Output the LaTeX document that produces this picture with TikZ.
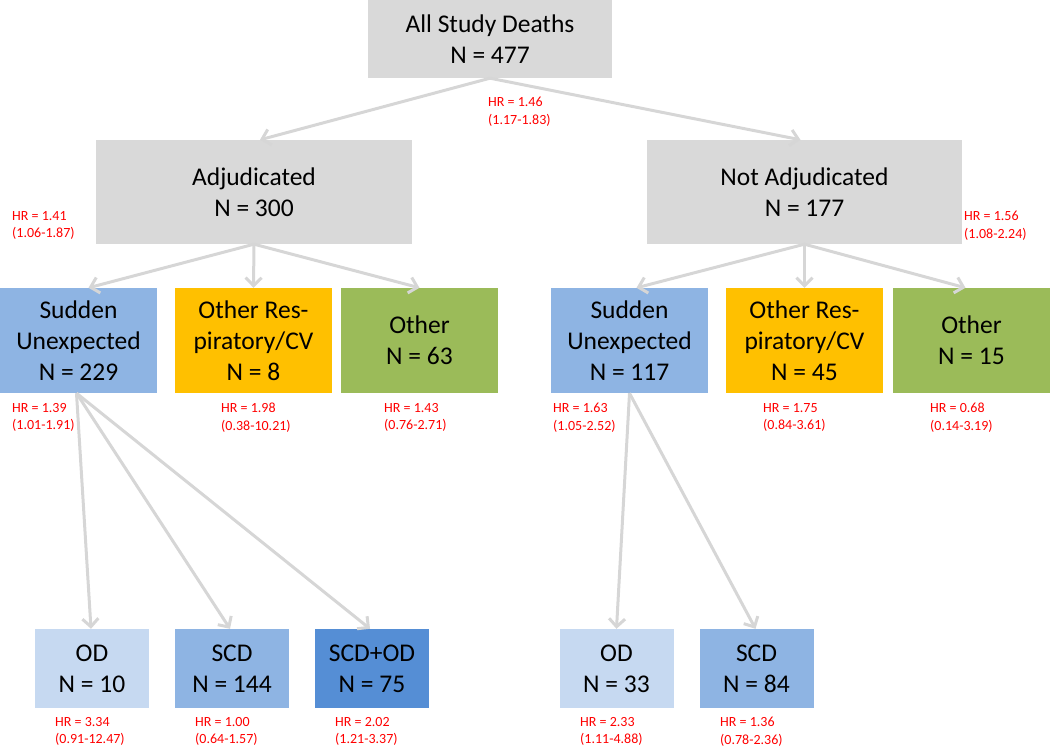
\documentclass[tikz,border=0pt]{standalone}
\usepackage{fontspec}
\setmainfont{Carlito}
\usetikzlibrary{arrows.meta,calc}
\definecolor{boxgray}{HTML}{D9D9D9}
\definecolor{linegray}{HTML}{D6D6D6}
\definecolor{sudblue}{HTML}{8EB4E3}
\definecolor{odblue}{HTML}{C6D9F1}
\definecolor{mixblue}{HTML}{558ED5}
\definecolor{resporange}{HTML}{FFC000}
\definecolor{othergreen}{HTML}{9BBB59}
\definecolor{hrred}{HTML}{FF0000}
\begin{document}
\begin{tikzpicture}[x=1pt,y=-1pt,
  box/.style={inner sep=0pt, align=center, text=black, font=\fontsize{25.5}{31}\selectfont},
  hr/.style={inner sep=0pt, align=left, anchor=north west, text=hrred, font=\fontsize{14}{17.5}\selectfont},
  conn/.style={draw=linegray, line width=3pt, -{Straight Barb[length=8pt,width=16pt]}}]
\useasboundingbox (0,0) rectangle (1050,747);
% level 0
\node[box, fill=boxgray, minimum width=244pt, minimum height=78pt] (all) at (490,39) {All Study Deaths\\N = 477};
% level 1
\node[box, fill=boxgray, minimum width=316pt, minimum height=104pt] (adj) at (254,192) {Adjudicated\\N = 300};
\node[box, fill=boxgray, minimum width=315pt, minimum height=104pt] (nadj) at (804.5,192) {Not Adjudicated\\N = 177};
% level 2
\node[box, fill=sudblue, minimum width=157pt, minimum height=105pt] (sudL) at (78.5,340.5) {Sudden\\Unexpected\\N = 229};
\node[box, fill=resporange, minimum width=157pt, minimum height=105pt] (respL) at (253.5,340.5) {Other Res-\\piratory/CV\\N = 8};
\node[box, fill=othergreen, minimum width=157pt, minimum height=105pt] (othL) at (419.5,340.5) {Other\\N = 63};
\node[box, fill=sudblue, minimum width=157pt, minimum height=105pt] (sudR) at (629.5,340.5) {Sudden\\Unexpected\\N = 117};
\node[box, fill=resporange, minimum width=157pt, minimum height=105pt] (respR) at (804.5,340.5) {Other Res-\\piratory/CV\\N = 45};
\node[box, fill=othergreen, minimum width=157pt, minimum height=105pt] (othR) at (971.5,340.5) {Other\\N = 15};
% level 3
\node[box, fill=odblue, minimum width=114pt, minimum height=79pt] (odL) at (92,668.5) {OD\\N = 10};
\node[box, fill=sudblue, minimum width=114pt, minimum height=79pt] (scdL) at (232,668.5) {SCD\\N = 144};
\node[box, fill=mixblue, minimum width=114pt, minimum height=79pt] (mixL) at (372,668.5) {SCD+OD\\N = 75};
\node[box, fill=odblue, minimum width=114pt, minimum height=79pt] (odR) at (616.5,668.5) {OD\\N = 33};
\node[box, fill=sudblue, minimum width=114pt, minimum height=79pt] (scdR) at (756.5,668.5) {SCD\\N = 84};
% connectors
\draw[conn] (all.south) -- ([xshift=6pt]adj.north);
\draw[conn] (all.south) -- ([xshift=-4pt]nadj.north);
\draw[conn] (adj.south) -- ([xshift=10pt]sudL.north);
\draw[conn] (adj.south) -- (respL.north);
\draw[conn] (adj.south) -- (othL.north);
\draw[conn] (nadj.south) -- ([xshift=7pt]sudR.north);
\draw[conn] (nadj.south) -- (respR.north);
\draw[conn] (nadj.south) -- ([xshift=-6pt]othR.north);
\draw[conn] ([xshift=-2pt]sudL.south) -- ([xshift=-1pt]odL.north);
\draw[conn] ([xshift=-2pt]sudL.south) -- ([xshift=-2pt]scdL.north);
\draw[conn] ([xshift=-2pt]sudL.south) -- ([xshift=-2pt]mixL.north);
\draw[conn] (sudR.south) -- (odR.north);
\draw[conn] (sudR.south) -- ([xshift=-1pt]scdR.north);
% HR labels
\node[hr] (h0) at (488,97) {HR = 1.46\\(1.17-1.83)};
\node[hr] (h1) at (12,211) {HR = 1.41\\(1.06-1.87)};
\node[hr] (h2) at (964,211) {HR = 1.56\\(1.08-2.24)};
\node[hr] (h3) at (12,403) {HR = 1.39\\(1.01-1.91)};
\node[hr] (h4) at (221,403) {HR = 1.98\\(0.38-10.21)};
\node[hr] (h5) at (384,403) {HR = 1.43\\(0.76-2.71)};
\node[hr] (h6) at (553,403) {HR = 1.63\\(1.05-2.52)};
\node[hr] (h7) at (763,403) {HR = 1.75\\(0.84-3.61)};
\node[hr] (h8) at (930,403) {HR = 0.68\\(0.14-3.19)};
\node[hr] (h9) at (55,717) {HR = 3.34\\(0.91-12.47)};
\node[hr] (h10) at (195,717) {HR = 1.00\\(0.64-1.57)};
\node[hr] (h11) at (335,717) {HR = 2.02\\(1.21-3.37)};
\node[hr] (h12) at (580,717) {HR = 2.33\\(1.11-4.88)};
\node[hr] (h13) at (720,717) {HR = 1.36\\(0.78-2.36)};
\end{tikzpicture}
\end{document}
